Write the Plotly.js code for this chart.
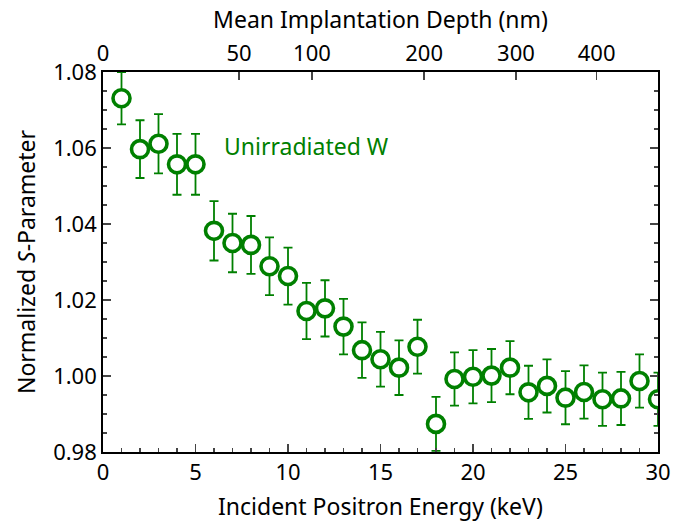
<!DOCTYPE html>
<html><head><meta charset="utf-8">
<script src="https://cdn.plot.ly/plotly-3.0.1.min.js"></script>
<style>html,body{margin:0;padding:0;background:#fff}</style>
</head><body>
<div id="chart" style="width:691px;height:523px"></div>
<script>
const energy = [1,2,3,4,5,6,7,8,9,10,11,12,13,14,15,16,17,18,19,20,21,22,23,24,25,26,27,28,29,30];
const sParam = [1.0731,1.0597,1.0611,1.0557,1.0557,1.0382,1.0350,1.0345,1.0289,1.0263,1.0171,1.0178,1.0130,1.0068,1.0044,1.0022,1.0077,0.9874,0.9992,0.9998,1.0001,1.0022,0.9957,0.9974,0.9943,0.9958,0.9939,0.9941,0.9987,0.9939];
const sErr = [0.0069,0.0076,0.0078,0.0080,0.0080,0.0078,0.0077,0.0076,0.0076,0.0075,0.0074,0.0074,0.0073,0.0073,0.0072,0.0072,0.0071,0.0071,0.0070,0.0070,0.0070,0.0070,0.0070,0.0070,0.0070,0.0070,0.0070,0.0070,0.0070,0.0070];
const depthTicks = [0,50,100,200,300,400];
const depthLabels = ['0','50','100','200','300','400'];
const seriesLabel = 'Unirradiated W';
const xTitle = 'Incident Positron Energy (keV)';

// mean implantation depth z(E) relation used for top axis placement
const depthToEnergy = z => 0.650 * Math.pow(z, 0.62);
const depthTickPos = depthTicks.map(depthToEnergy);

const green = '#008000';
const font = "'Noto Sans', 'Open Sans', sans-serif";
const tickSize = 22, titleSize = 23;

const trace = {
  x: energy, y: sParam, type: 'scatter', mode: 'markers',
  marker: {symbol: 'circle', size: 17, color: '#ffffff', line: {color: green, width: 3.6}},
  error_y: {type: 'data', array: sErr, visible: true, color: green, thickness: 1.8, width: 4.5},
  cliponaxis: true, showlegend: false
};
const dummyTop = {x: [0], y: [1.0], xaxis: 'x2', yaxis: 'y', mode: 'markers', marker: {opacity: 0}, showlegend: false, hoverinfo: 'skip'};

const layout = {
  width: 691, height: 523,
  margin: {l: 103, r: 33, t: 72, b: 71},
  paper_bgcolor: '#fff', plot_bgcolor: '#fff',
  font: {family: font, size: tickSize, color: '#000'},
  showlegend: false,
  xaxis: {
    range: [0, 30], tickvals: [0,5,10,15,20,25,30], ticks: 'inside', ticklen: 8, tickwidth: 1.5,
    showline: true, linewidth: 1.8, linecolor: '#000', mirror: false, zeroline: false, showgrid: false,
    minor: {dtick: 1, ticks: 'inside', ticklen: 4, tickwidth: 1.2, showgrid: false},
    tickfont: {size: tickSize}
  },
  xaxis2: {
    overlaying: 'x', side: 'top', range: [0, 30], tickmode: 'array', tickvals: depthTickPos, ticktext: depthLabels,
    ticks: 'inside', ticklen: 8, tickwidth: 1.5, showline: true, linewidth: 1.8, linecolor: '#000',
    zeroline: false, showgrid: false, tickfont: {size: tickSize},
    title: {text: 'Mean Implantation Depth (nm)', font: {size: titleSize}, standoff: 2}
  },
  yaxis: {
    range: [0.98, 1.08], tickvals: [0.98,1.00,1.02,1.04,1.06,1.08], tickformat: '.2f',
    ticks: 'inside', ticklen: 8, tickwidth: 1.5, showline: true, linewidth: 1.8, linecolor: '#000', mirror: 'ticks',
    zeroline: false, showgrid: false,
    minor: {dtick: 0.005, ticks: 'inside', ticklen: 4, tickwidth: 1.2, showgrid: false},
    tickfont: {size: tickSize}, title: {text: 'Normalized <i>S</i>-Parameter', font: {size: titleSize}, standoff: 11}
  },
  annotations: [{
    x: 6.45, y: 1.0605, xref: 'x', yref: 'y', xanchor: 'left', yanchor: 'middle',
    text: seriesLabel, showarrow: false, font: {size: titleSize, color: green, family: font}
  }, {
    x: 0.5, y: 0, xref: 'paper', yref: 'paper', xanchor: 'center', yanchor: 'middle', yshift: -54,
    text: xTitle, showarrow: false, font: {size: titleSize, color: '#000', family: font}
  }]
};
Plotly.newPlot('chart', [trace, dummyTop], layout, {staticPlot: true, displayModeBar: false});
</script>
</body></html>
